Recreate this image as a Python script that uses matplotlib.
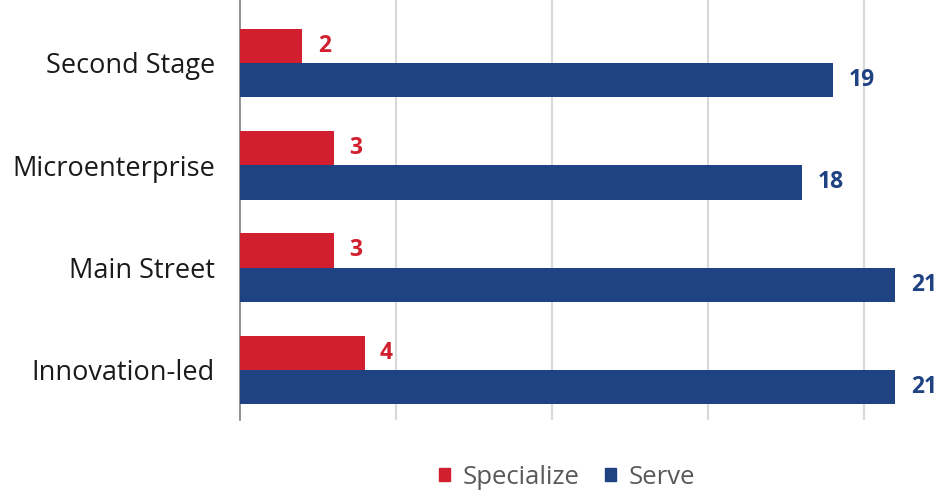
import matplotlib
matplotlib.use("Agg")
import matplotlib.pyplot as plt
from matplotlib.patches import Patch

categories = ["Second Stage", "Microenterprise", "Main Street", "Innovation-led"]
specialize = [2, 3, 3, 4]
serve = [19, 18, 21, 21]

RED = "#d21f2f"
BLUE = "#1f4283"
plt.rcParams['font.family'] = ['Open Sans', 'DejaVu Sans']

fig = plt.figure(figsize=(9.4, 4.95), dpi=100)
ax = fig.add_axes([240/940, 1-420/495, 1-240/940, 420/495])

pos = list(range(len(categories)))
h = 0.335
ax.barh([p - h/2 for p in pos], specialize, height=h, color=RED, zorder=3)
ax.barh([p + h/2 for p in pos], serve, height=h, color=BLUE, zorder=3)

for p, v in zip(pos, specialize):
    ax.annotate(str(v), (v, p - h/2), xytext=(11, 0), textcoords="offset points",
                va="center", ha="left", color=RED, fontsize=16.5, fontweight="bold")
for p, v in zip(pos, serve):
    ax.annotate(str(v), (v, p + h/2), xytext=(11.5, 0), textcoords="offset points",
                va="center", ha="left", color=BLUE, fontsize=16.5, fontweight="bold")

ax.set_xlim(0, 700/31.2)
ax.set_ylim(357/102.3, -63/102.3)
ax.set_xticks([5, 10, 15, 20])
ax.set_xticklabels([])
ax.tick_params(axis='x', length=0)
ax.grid(axis='x', color="#d9d9d9", linewidth=1.5, zorder=0)
ax.set_yticks(pos)
ax.set_yticklabels(categories, fontsize=19.5, color="#1a1a1a")
ax.tick_params(axis='y', length=0, pad=18)
for s in ["top", "right", "bottom"]:
    ax.spines[s].set_visible(False)
ax.spines["left"].set_color("#7f7f7f")
ax.spines["left"].set_linewidth(1.2)

handles = [Patch(color=RED, label="Specialize"), Patch(color=BLUE, label="Serve")]
leg = fig.legend(handles=handles, loc="center", bbox_to_anchor=(567/940, 1-477/495),
                 ncol=2, frameon=False, fontsize=18.5, handlelength=0.42, handleheight=0.42,
                 handletextpad=0.5, columnspacing=1.0, borderpad=0)
for t in leg.get_texts():
    t.set_color("#595959")

fig.savefig("out.png", dpi=100)
